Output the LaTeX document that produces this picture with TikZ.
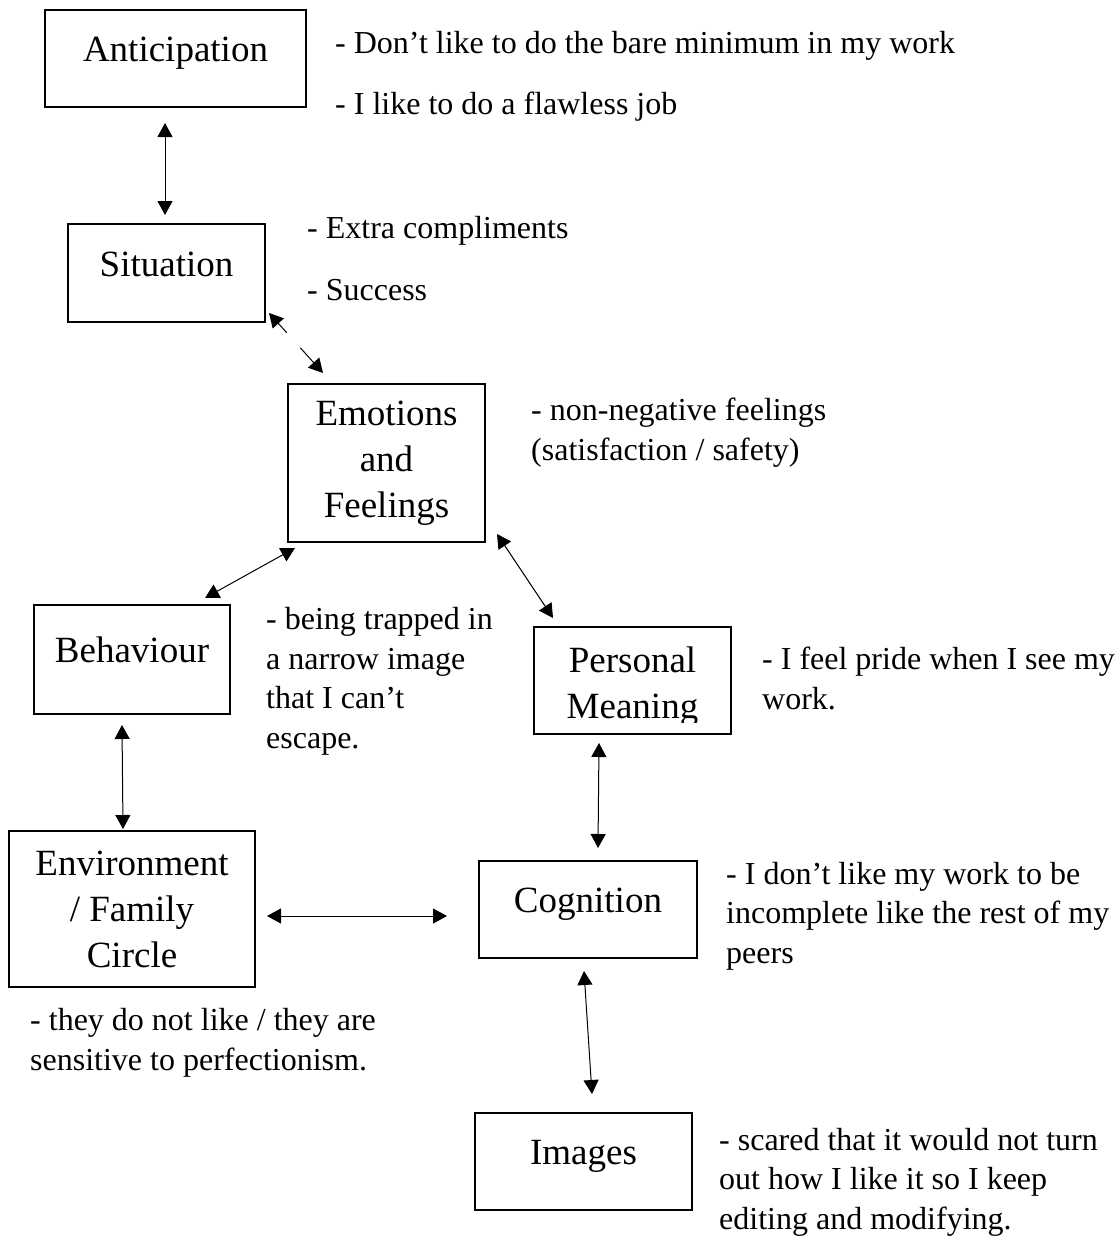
\documentclass[tikz,border=0pt]{standalone}
\usepackage{fontspec}
\setmainfont{Liberation Serif}
\usetikzlibrary{arrows.meta,calc}

\newcommand{\boxfont}{\fontsize{37}{46}\selectfont}
\newcommand{\notefont}{\fontsize{32}{39.5}\selectfont}

\tikzset{
  boxtext/.style={inner sep=0pt, align=center, font=\boxfont},
  box/.style={boxtext, draw, line width=2pt},
  onebox/.style={box, text height=14pt, text depth=8pt},
  % multi-line notes are placed by the baseline of their last line
  note/.style={anchor=base west, inner sep=0pt, align=left, font=\notefont},
  link/.style={{Triangle[length=14pt,width=15pt]}-{Triangle[length=14pt,width=15pt]}, line width=1pt},
  oneway/.style={-{Triangle[length=14pt,width=15pt]}, line width=1pt}
}

\begin{document}
\begin{tikzpicture}[x=1pt, y=-1pt]
\useasboundingbox (0,0) rectangle (1118,1239);

% Boxes
\node[onebox, minimum width=261pt, minimum height=97pt] (ant) at (175.5,58.5) {Anticipation};
\node[onebox, minimum width=197pt, minimum height=98pt] (sit) at (166.5,273) {Situation};
\node[box, minimum width=197pt, minimum height=158pt] (emo) at (386.5,463) {Emotions\\and\\Feelings};
\node[onebox, minimum width=196pt, minimum height=109pt] (beh) at (132,659.5) {Behaviour};
\node[box, minimum width=197pt, minimum height=107pt] (pers) at (632.5,680.5) {};
\node[box, minimum width=246pt, minimum height=156pt] (env) at (132,909) {Environment\\/ Family\\Circle};
\node[onebox, minimum width=218pt, minimum height=97pt] (cog) at (588,909.5) {Cognition};
\node[onebox, minimum width=217pt, minimum height=97pt] (img) at (583.5,1161.5) {Images};

% text of Personal Meaning is cut off at the bottom
\begin{scope}
  \clip (pers.north west) rectangle ([shift={(0,-12.5)}]pers.south east);
  \node[boxtext] (perstext) at ([shift={(0,6)}]pers.center) {Personal\\Meaning};
\end{scope}

% Notes
\node[note] (antnote1) at (335,54) {- Don’t like to do the bare minimum in my work};
\node[note] (antnote2) at (335,114) {- I like to do a flawless job};
\node[note] (sitnote1) at (307,238) {- Extra compliments};
\node[note] (sitnote2) at (307,300) {- Success};
\node[note] (emonote) at (531,460) {- non-negative feelings\\(satisfaction / safety)};
\node[note] (behnote) at (266,748) {- being trapped in\\a narrow image\\that I can’t\\escape.};
\node[note] (persnote) at (762,709) {- I feel pride when I see my\\work.};
\node[note] (cognote) at (726,963) {- I don’t like my work to be\\incomplete like the rest of my\\peers};
\node[note] (envnote) at (30,1070) {- they do not like / they are\\sensitive to perfectionism.};
\node[note] (imgnote) at (719,1229) {- scared that it would not turn\\out how I like it so I keep\\editing and modifying.};

% Arrows
\draw[link] ([shift={(-10.5,15)}]ant.south) -- ([shift={(-1.5,-8)}]sit.north);

\coordinate (sitend) at ([shift={(3,-10)}]sit.south east);
\coordinate (emoend) at ([shift={(36,-10)}]emo.north west);
\draw[oneway] ($(sitend)!0.33!(emoend)$) -- (sitend);
\draw[oneway] ($(sitend)!0.58!(emoend)$) -- (emoend);

\draw[link] ([shift={(8,5)}]emo.south west) -- ([shift={(-26,-6)}]beh.north east);
\draw[link] ([shift={(11,-9)}]emo.south east) -- ([shift={(20,-8)}]pers.north west);
\draw[link] ([shift={(-10,10)}]beh.south) -- ([shift={(-9,-1)}]env.north);
\draw[link] ([shift={(-33.5,8)}]pers.south) -- ([shift={(10,-12)}]cog.north);
\draw[link] ([shift={(11,7)}]env.east) -- ([shift={(-31,6.5)}]cog.west);
\draw[link] ([shift={(-4,12)}]cog.south) -- ([shift={(8.5,-18)}]img.north);

\end{tikzpicture}
\end{document}
